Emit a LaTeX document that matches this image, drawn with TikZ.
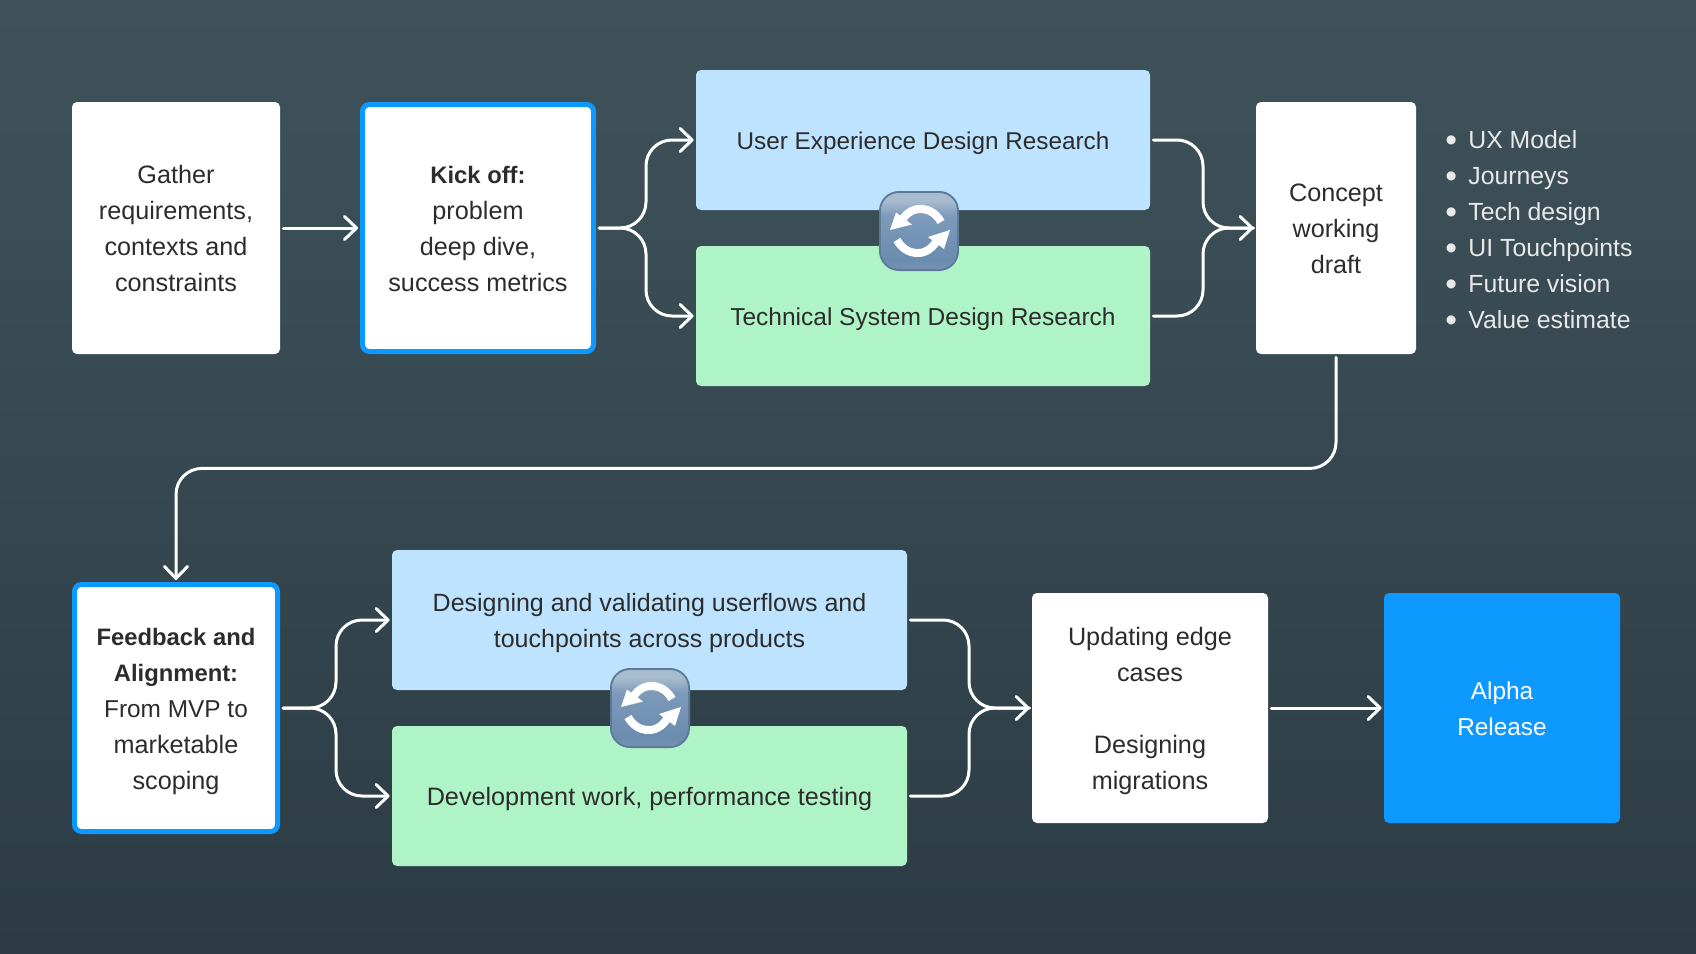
\documentclass[tikz,border=0pt]{standalone}
\usepackage{fontspec}
\setmainfont{Liberation Sans}
\usetikzlibrary{arrows.meta,calc}
\definecolor{ink}{HTML}{2C2C2C}
\definecolor{bgtop}{HTML}{3F525A}
\definecolor{bgbot}{HTML}{2D3C44}
\definecolor{skyfill}{HTML}{BDE3FF}
\definecolor{mintfill}{HTML}{AFF4C6}
\definecolor{brandblue}{HTML}{0D99FF}
\definecolor{listtext}{HTML}{E8E8E8}
\definecolor{iconrim}{HTML}{5C7A98}
\definecolor{icontop}{HTML}{A8BCCF}
\definecolor{iconmid}{HTML}{7D9ABA}
\definecolor{iconlow}{HTML}{6C8CAE}
\definecolor{iconbot}{HTML}{7392B2}
\pgfdeclareverticalshading{iconshade}{100bp}{
  color(0bp)=(iconbot); color(25bp)=(iconbot); color(32bp)=(iconlow);
  color(60bp)=(iconmid); color(70bp)=(icontop); color(75bp)=(icontop); color(100bp)=(icontop)}
\newcommand{\ctext}[1]{\raisebox{-1.1pt}[\height][\depth]{\begin{tabular}{@{}c@{}}#1\end{tabular}}}
\newcommand{\bul}{\makebox[11.5pt][l]{\raisebox{-1.7pt}{\scalebox{1.35}{•}}}}
\tikzset{
  x=0.5pt,y=-0.5pt,
  box/.style={rectangle,rounded corners=2.5pt,text=ink,inner sep=0pt,
    font=\fontsize{12.6}{18}\selectfont},
  plainbox/.style={box,fill=white},
  focusbox/.style={box,fill=white,draw=brandblue,line width=2.5pt,rounded corners=3.5pt},
  skybox/.style={box,fill=skyfill},
  mintbox/.style={box,fill=mintfill},
  alphabox/.style={box,fill=brandblue,text=white,font=\fontsize{12.2}{18}\selectfont},
  conn/.style={draw=white,line width=1.5pt,line cap=round,
    -{Straight Barb[length=6pt,width=11.5pt,round,line width=1.5pt]},
    shorten <=1.5pt,shorten >=1pt},
  curved/.style={conn,rounded corners=13pt},
  syncicon/.pic={
    \fill[iconrim,rounded corners=10pt] (-40,-40) rectangle (40,40);
    \shade[rounded corners=9pt,shading=iconshade] (-38,-38) rectangle (38,38);
    \draw[white,line width=4pt] (22,-9) .. controls (14,-24) and (-6,-28) .. (-17,-11);
    \fill[white] (-29,-1) -- (-23,-18.5) -- (-7,-6.5) -- cycle;
    \draw[white,line width=4pt] (-22,9) .. controls (-14,24) and (6,28) .. (17,11);
    \fill[white] (31,-1) -- (25,18) -- (9,6) -- cycle;
  }
}
\begin{document}
\begin{tikzpicture}
\useasboundingbox (0,0) rectangle (1696,953);
\shade[top color=bgtop,bottom color=bgbot] (0,0) rectangle (1696,953);

\node[plainbox,minimum width=104pt,minimum height=126pt] (gather) at (176,228)
  {\ctext{Gather\\requirements,\\contexts and\\constraints}};
\node[focusbox,minimum width=115.5pt,minimum height=123.5pt] (kick) at (478,228)
  {\ctext{{\fontsize{11.9}{18}\selectfont\textbf{Kick off:}}\\problem\\deep dive,\\success metrics}};
\node[skybox,minimum width=227pt,minimum height=70pt,font=\fontsize{12.15}{18}\selectfont] (ux) at (923,140)
  {\ctext{User Experience Design Research}};
\node[mintbox,minimum width=227pt,minimum height=70pt,font=\fontsize{12.25}{18}\selectfont] (tech) at (923,316)
  {\ctext{Technical System Design Research}};
\node[plainbox,minimum width=80pt,minimum height=126pt] (concept) at (1336,228)
  {\ctext{Concept\\working\\draft}};
\node[anchor=west,inner sep=0pt,text=listtext,font=\fontsize{12.4}{18}\selectfont] (list) at (1445,228)
  {\raisebox{-1.6pt}[\height][\depth]{\begin{tabular}{@{}l@{}}\bul UX Model\\\bul Journeys\\\bul Tech design\\\bul UI Touchpoints\\\bul Future vision\\\bul Value estimate\end{tabular}}};

\node[focusbox,minimum width=101.5pt,minimum height=123.5pt] (feedback) at (176,708)
  {\ctext{{\fontsize{11.9}{18}\selectfont\textbf{Feedback and}}\\{\fontsize{11.9}{18}\selectfont\textbf{Alignment:}}\\{\fontsize{12.2}{18}\selectfont From MVP to}\\marketable\\scoping}};
\node[skybox,minimum width=257.5pt,minimum height=70pt,font=\fontsize{12.5}{18}\selectfont] (flows) at (649.5,620)
  {\ctext{Designing and validating userflows and\\touchpoints across products}};
\node[mintbox,minimum width=257.5pt,minimum height=70pt] (dev) at (649.5,796)
  {\ctext{Development work, performance testing}};
\node[plainbox,minimum width=118pt,minimum height=115pt] (update) at (1150,708)
  {\ctext{Updating edge\\cases\\ \\Designing\\migrations}};
\node[alphabox,minimum width=118pt,minimum height=115pt] (alpha) at (1502,708)
  {\ctext{Alpha\\Release}};

\coordinate (splitA) at (646,228);
\coordinate (mergeA) at (1203,228);
\coordinate (splitB) at (336,708);
\coordinate (mergeB) at (969,708);

\draw[conn] (gather.east) -- (kick.west);
\draw[curved] (kick.east) -- (splitA) -- (splitA |- ux.west) -- (ux.west);
\draw[curved] (kick.east) -- (splitA) -- (splitA |- tech.west) -- (tech.west);
\draw[curved,-] (ux.east) -- (ux.east -| mergeA) -- (mergeA) -- (concept.west);
\draw[curved] (tech.east) -- (tech.east -| mergeA) -- (mergeA) -- (concept.west);
\coordinate (bendA) at ($(concept.south)+(0,114)$);
\draw[curved] (concept.south) -- (bendA) -- (bendA -| feedback.north) -- (feedback.north);
\draw[curved] (feedback.east) -- (splitB) -- (splitB |- flows.west) -- (flows.west);
\draw[curved] (feedback.east) -- (splitB) -- (splitB |- dev.west) -- (dev.west);
\draw[curved,-] (flows.east) -- (flows.east -| mergeB) -- (mergeB) -- (update.west);
\draw[curved] (dev.east) -- (dev.east -| mergeB) -- (mergeB) -- (update.west);
\draw[conn] (update.east) -- (alpha.west);

\pic at (919,231) {syncicon};
\pic at (650,708) {syncicon};
\end{tikzpicture}
\end{document}
